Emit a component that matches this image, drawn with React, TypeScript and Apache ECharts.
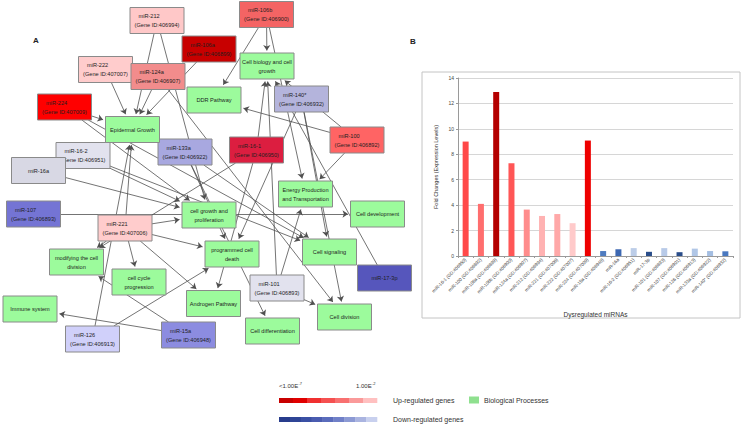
import { useEffect, useRef } from "react";
import * as echarts from "echarts";

// ---------------- Panel A : network ----------------
const mirnaNames = [
  "miR-212", "miR-106b", "miR-106a", "miR-222", "miR-124a", "miR-140*", "miR-224", "miR-100", "miR-16-2",
  "miR-133a", "miR-16-1", "miR-16a", "miR-107", "miR-221", "miR-17-3p", "miR-101", "miR-126", "miR-15a",
];
const mirnaGeneIds = [
  "406994", "406900", "406899", "407007", "406907", "406932", "407009", "406892", "406951",
  "406922", "406950", "", "406893", "407006", "", "406893", "406913", "406948",
];
const processKeys = ["CBG", "DDR", "EG", "EPT", "CGP", "CDev", "PCD", "CSig", "MCD", "CCP", "AP", "IS", "CDiv", "CDiff"];
const processLabels = [
  "Cell biology and cell\ngrowth", "DDR Pathway", "Epidermal Growth", "Energy Production\nand Transportation",
  "cell growth and\nproliferation", "Cell development", "programmed cell\ndeath", "Cell signaling",
  "modifying the cell\ndivision", "cell cycle\nprogression", "Androgen Pathway", "Immune system",
  "Cell division", "Cell differentiation",
];
const edges: [string, string][] = [
  ["miR-212", "EG"], ["miR-212", "CGP"],
  ["miR-106b", "CBG"], ["miR-106b", "DDR"], ["miR-106b", "EPT"],
  ["miR-106a", "EG"], ["miR-222", "EG"], ["miR-124a", "EG"], ["miR-124a", "CDiv"],
  ["miR-224", "EG"], ["miR-224", "CSig"], ["miR-224", "CGP"],
  ["miR-140*", "CSig"], ["miR-140*", "CDiv"], ["miR-140*", "PCD"],
  ["miR-100", "DDR"], ["miR-100", "EPT"], ["miR-100", "CBG"],
  ["miR-17-3p", "CBG"],
  ["miR-16-1", "CBG"], ["miR-16-1", "AP"], ["miR-16-1", "MCD"],
  ["miR-16-2", "CGP"], ["miR-16-2", "CSig"],
  ["miR-133a", "PCD"], ["miR-133a", "CDiff"], ["miR-133a", "CSig"],
  ["miR-16a", "CGP"], ["miR-107", "CDev"],
  ["miR-221", "CGP"], ["miR-221", "PCD"], ["miR-221", "MCD"], ["miR-221", "CCP"], ["miR-221", "EG"], ["miR-221", "AP"],
  ["miR-126", "EG"], ["miR-126", "PCD"],
  ["miR-15a", "IS"], ["miR-15a", "MCD"],
  ["miR-101", "CDiv"], ["miR-101", "EPT"], ["miR-101", "CBG"],
];

// node layout (network canvas coordinates)
const nodeLayout: Record<string, [number, number]> = {
  "miR-212": [157, 20.5], "miR-106b": [266.5, 14.5], "miR-106a": [209, 49], "miR-222": [105.5, 69.5],
  "miR-124a": [158, 76.5], "miR-140*": [301.5, 99], "miR-224": [64.5, 107], "miR-100": [357, 140],
  "miR-16-2": [83, 155.5], "miR-133a": [185, 152], "miR-16-1": [256.5, 150], "miR-16a": [38.5, 170.5],
  "miR-107": [33.5, 214], "miR-221": [125, 228], "miR-17-3p": [384.5, 278], "miR-101": [277, 288],
  "miR-126": [92.5, 339], "miR-15a": [188.5, 335],
  CBG: [267, 66], DDR: [214, 100], EG: [132.5, 129.5], EPT: [305.5, 194], CGP: [209, 215], CDev: [377.5, 214],
  PCD: [232, 254], CSig: [329.5, 252], MCD: [76.5, 262], CCP: [139, 282], AP: [213.5, 303.5], IS: [30, 309],
  CDiv: [344.5, 317], CDiff: [272.5, 331],
};
const mirnaColors: Record<string, string> = {
  "miR-212": "#ffc8c8", "miR-106b": "#f46464", "miR-106a": "#c80000", "miR-222": "#ffcccc",
  "miR-124a": "#f28c8c", "miR-140*": "#b4b4dc", "miR-224": "#ff0000", "miR-100": "#ff6464",
  "miR-16-2": "#e2e2ee", "miR-133a": "#a8a8e0", "miR-16-1": "#dc1e40", "miR-16a": "#d8d8e4",
  "miR-107": "#7474d4", "miR-221": "#ffcccc", "miR-17-3p": "#5656bc", "miR-101": "#e2e2ee",
  "miR-126": "#d0d0fa", "miR-15a": "#8c8ce0",
};
const processColor = "#9cfb9c";

// ---------------- Panel B : bar chart ----------------
const barCategories = [
  "miR-16-1 (GD:406950)", "miR-100 (GD:406892)", "miR-106a (GD:406899)", "miR-106b (GD:406900)",
  "miR-124a (GD:406907)", "miR-212 (GD:406994)", "miR-221 (GD:407006)", "miR-222 (GD:407007)",
  "miR-224 (GD:407009)", "miR-15a (GD:406948)", "miR-16a", "miR-16-2 (GD:406951)", "miR-17-3p",
  "miR-101 (GD:406893)", "miR-107 (GD:406901)", "miR-126 (GD:406913)", "miR-133a (GD:406922)",
  "miR-140* (GD:406932)",
];
const foldChanges = [9.0, 4.1, 12.9, 7.3, 3.65, 3.15, 3.3, 2.58, 9.08, 0.39, 0.53, 0.62, 0.33, 0.62, 0.3, 0.58, 0.39, 0.37];
const barColors = [
  "#ff4848", "#ff6e6e", "#b40000", "#ff5656", "#ff8c8c", "#ffb2b2", "#ffa8a8", "#ffcaca", "#ee0000",
  "#4f7cc0", "#3d68b2", "#bccde8", "#2a4d8a", "#b8cae8", "#2a4d8a", "#b0c6e6", "#a4bee2", "#4a78c0",
];
const yTicks = [0, 2, 4, 6, 8, 10, 12, 14];

// legend gradient colours
const upGradient = ["#c80000", "#e00000", "#f03030", "#f55050", "#f87070", "#fa9a9a", "#ffc0c0"];
const downGradient = ["#283c8c", "#2f4596", "#3a50a4", "#4a5cb0", "#5a6cbc", "#7080c8", "#8c9ad4", "#aab4e0", "#c8d0ee"];

const BOX_W = 54;
const BOX_H = 26;
const FONT = '"Liberation Sans", Arial, sans-serif';

type NodeDef = { key: string; kind: "mirna" | "process"; lines: string[]; color: string };

function buildNodes(): NodeDef[] {
  const list: NodeDef[] = [];
  mirnaNames.forEach((n, i) => {
    list.push({
      key: n,
      kind: "mirna",
      lines: mirnaGeneIds[i] ? [n, "(Gene ID:" + mirnaGeneIds[i] + ")"] : [n],
      color: mirnaColors[n],
    });
  });
  processKeys.forEach((k, i) => {
    list.push({ key: k, kind: "process", lines: processLabels[i].split("\n"), color: processColor });
  });
  return list;
}

function edgeCoords(a: [number, number], b: [number, number]) {
  const dx = b[0] - a[0];
  const dy = b[1] - a[1];
  const t = Math.min(
    dx ? BOX_W / 2 / Math.abs(dx) : Infinity,
    dy ? BOX_H / 2 / Math.abs(dy) : Infinity
  );
  const len = Math.sqrt(dx * dx + dy * dy);
  const back = 2.5 / len; // leave room for the arrow head
  return [
    [a[0] + dx * t, a[1] + dy * t],
    [b[0] - dx * (t + back), b[1] - dy * (t + back)],
  ];
}

function buildOption() {
  const nodes = buildNodes();
  const edgeData = edges.map(([s, t]) => ({ coords: edgeCoords(nodeLayout[s], nodeLayout[t]) }));
  const nodeData = nodes.map((n, i) => [nodeLayout[n.key][0], nodeLayout[n.key][1], i]);

  const graphic: any[] = [];
  graphic.push({ type: "text", x: 33, y: 36, style: { text: "A", font: "bold 8px " + FONT, fill: "#222" } });
  graphic.push({ type: "text", x: 410, y: 37, style: { text: "B", font: "bold 8px " + FONT, fill: "#222" } });
  graphic.push({
    type: "rect", shape: { x: 422, y: 72, width: 318, height: 246 },
    style: { fill: "none", stroke: "#c4c4c4", lineWidth: 1 }, z: 0,
  });
  // legend
  const gx0 = 279, gx1 = 377;
  const upW = (gx1 - gx0) / upGradient.length;
  upGradient.forEach((c, i) =>
    graphic.push({ type: "rect", shape: { x: gx0 + i * upW, y: 398, width: upW + 0.3, height: 5 }, style: { fill: c } })
  );
  const dnW = (gx1 - gx0) / downGradient.length;
  downGradient.forEach((c, i) =>
    graphic.push({ type: "rect", shape: { x: gx0 + i * dnW, y: 417, width: dnW + 0.3, height: 5 }, style: { fill: c } })
  );
  graphic.push({ type: "text", x: 279, y: 383, style: { text: "<1.00E", font: "6px " + FONT, fill: "#333" } });
  graphic.push({ type: "text", x: 298.5, y: 381.5, style: { text: "-7", font: "4px " + FONT, fill: "#333" } });
  graphic.push({ type: "text", x: 356, y: 383, style: { text: "1.00E", font: "6px " + FONT, fill: "#333" } });
  graphic.push({ type: "text", x: 372, y: 381.5, style: { text: "-2", font: "4px " + FONT, fill: "#333" } });
  graphic.push({ type: "text", x: 393, y: 397, style: { text: "Up-regulated genes", font: "7px " + FONT, fill: "#333" } });
  graphic.push({ type: "text", x: 393, y: 416, style: { text: "Down-regulated genes", font: "7px " + FONT, fill: "#333" } });
  graphic.push({ type: "rect", shape: { x: 469, y: 396.5, width: 10, height: 7 }, style: { fill: "#8fe08f" } });
  graphic.push({ type: "text", x: 484, y: 396.5, style: { text: "Biological Processes", font: "7px " + FONT, fill: "#333" } });

  return {
    animation: false,
    backgroundColor: "#ffffff",
    textStyle: { fontFamily: FONT },
    grid: [
      { left: 0, top: 0, width: 741, height: 426, show: false },
      { left: 458, top: 78, width: 275, height: 178, show: false },
    ],
    xAxis: [
      { gridIndex: 0, type: "value", min: 0, max: 741, show: false },
      {
        gridIndex: 1,
        type: "category",
        data: barCategories,
        axisLine: { show: true, lineStyle: { color: "#9a9a9a", width: 1 } },
        axisTick: { show: true, length: 2, lineStyle: { color: "#9a9a9a" } },
        axisLabel: { interval: 0, rotate: 45, fontSize: 4.6, color: "#444", margin: 3 },
        name: "Dysregulated miRNAs",
        nameLocation: "middle",
        nameGap: 55,
        nameTextStyle: { fontSize: 6.5, color: "#333" },
      },
    ],
    yAxis: [
      { gridIndex: 0, type: "value", min: 0, max: 426, inverse: true, show: false },
      {
        gridIndex: 1,
        type: "value",
        min: yTicks[0],
        max: yTicks[yTicks.length - 1],
        interval: yTicks[1] - yTicks[0],
        axisLine: { show: true, lineStyle: { color: "#9a9a9a", width: 1 } },
        axisTick: { show: true, length: 2, lineStyle: { color: "#9a9a9a" } },
        splitLine: { show: true, lineStyle: { color: "#d6d6d6", width: 1 } },
        axisLabel: { fontSize: 5, color: "#444", margin: 4 },
        name: "Fold Changes (Expression Levels)",
        nameLocation: "middle",
        nameRotate: 90,
        nameGap: 19,
        nameTextStyle: { fontSize: 5.5, color: "#333" },
      },
    ],
    graphic: { elements: graphic },
    series: [
      {
        type: "lines",
        coordinateSystem: "cartesian2d",
        xAxisIndex: 0,
        yAxisIndex: 0,
        symbol: ["none", "arrow"],
        symbolSize: 5.5,
        lineStyle: { color: "#505050", width: 0.8, opacity: 1 },
        data: edgeData,
        z: 1,
        silent: true,
      },
      {
        type: "custom",
        xAxisIndex: 0,
        yAxisIndex: 0,
        z: 3,
        silent: true,
        data: nodeData,
        renderItem: (_params: any, api: any) => {
          const n = nodes[api.value(2)];
          const p = api.coord([api.value(0), api.value(1)]);
          const children: any[] = [
            {
              type: "rect",
              shape: { x: p[0] - BOX_W / 2, y: p[1] - BOX_H / 2, width: BOX_W, height: BOX_H },
              style: { fill: n.color, stroke: "#8a8a8a", lineWidth: 1 },
            },
          ];
          const lh = 9;
          n.lines.forEach((line, k) => {
            const dy = (k - (n.lines.length - 1) / 2) * lh;
            const leftAligned = n.kind === "mirna" && n.lines.length === 2 && k === 0;
            children.push({
              type: "text",
              style: {
                text: line,
                x: leftAligned ? p[0] - BOX_W / 2 + 8.5 : p[0],
                y: p[1] + dy,
                align: leftAligned ? "left" : "center",
                verticalAlign: "middle",
                font: "5.6px " + FONT,
                fill: "#1e1e1e",
              },
            });
          });
          return { type: "group", children };
        },
      },
      {
        type: "bar",
        xAxisIndex: 1,
        yAxisIndex: 1,
        barWidth: 6,
        data: foldChanges.map((v, i) => ({ value: v, itemStyle: { color: barColors[i] } })),
      },
    ],
  };
}

export default function App() {
  const ref = useRef<HTMLDivElement>(null);
  useEffect(() => {
    const chart = echarts.init(ref.current!, null, { renderer: "svg" });
    chart.setOption(buildOption() as any);
    return () => chart.dispose();
  }, []);
  return (
    <div
      ref={ref}
      style={{ position: "fixed", left: 0, top: 0, width: 741, height: 426, background: "#fff" }}
    />
  );
}
